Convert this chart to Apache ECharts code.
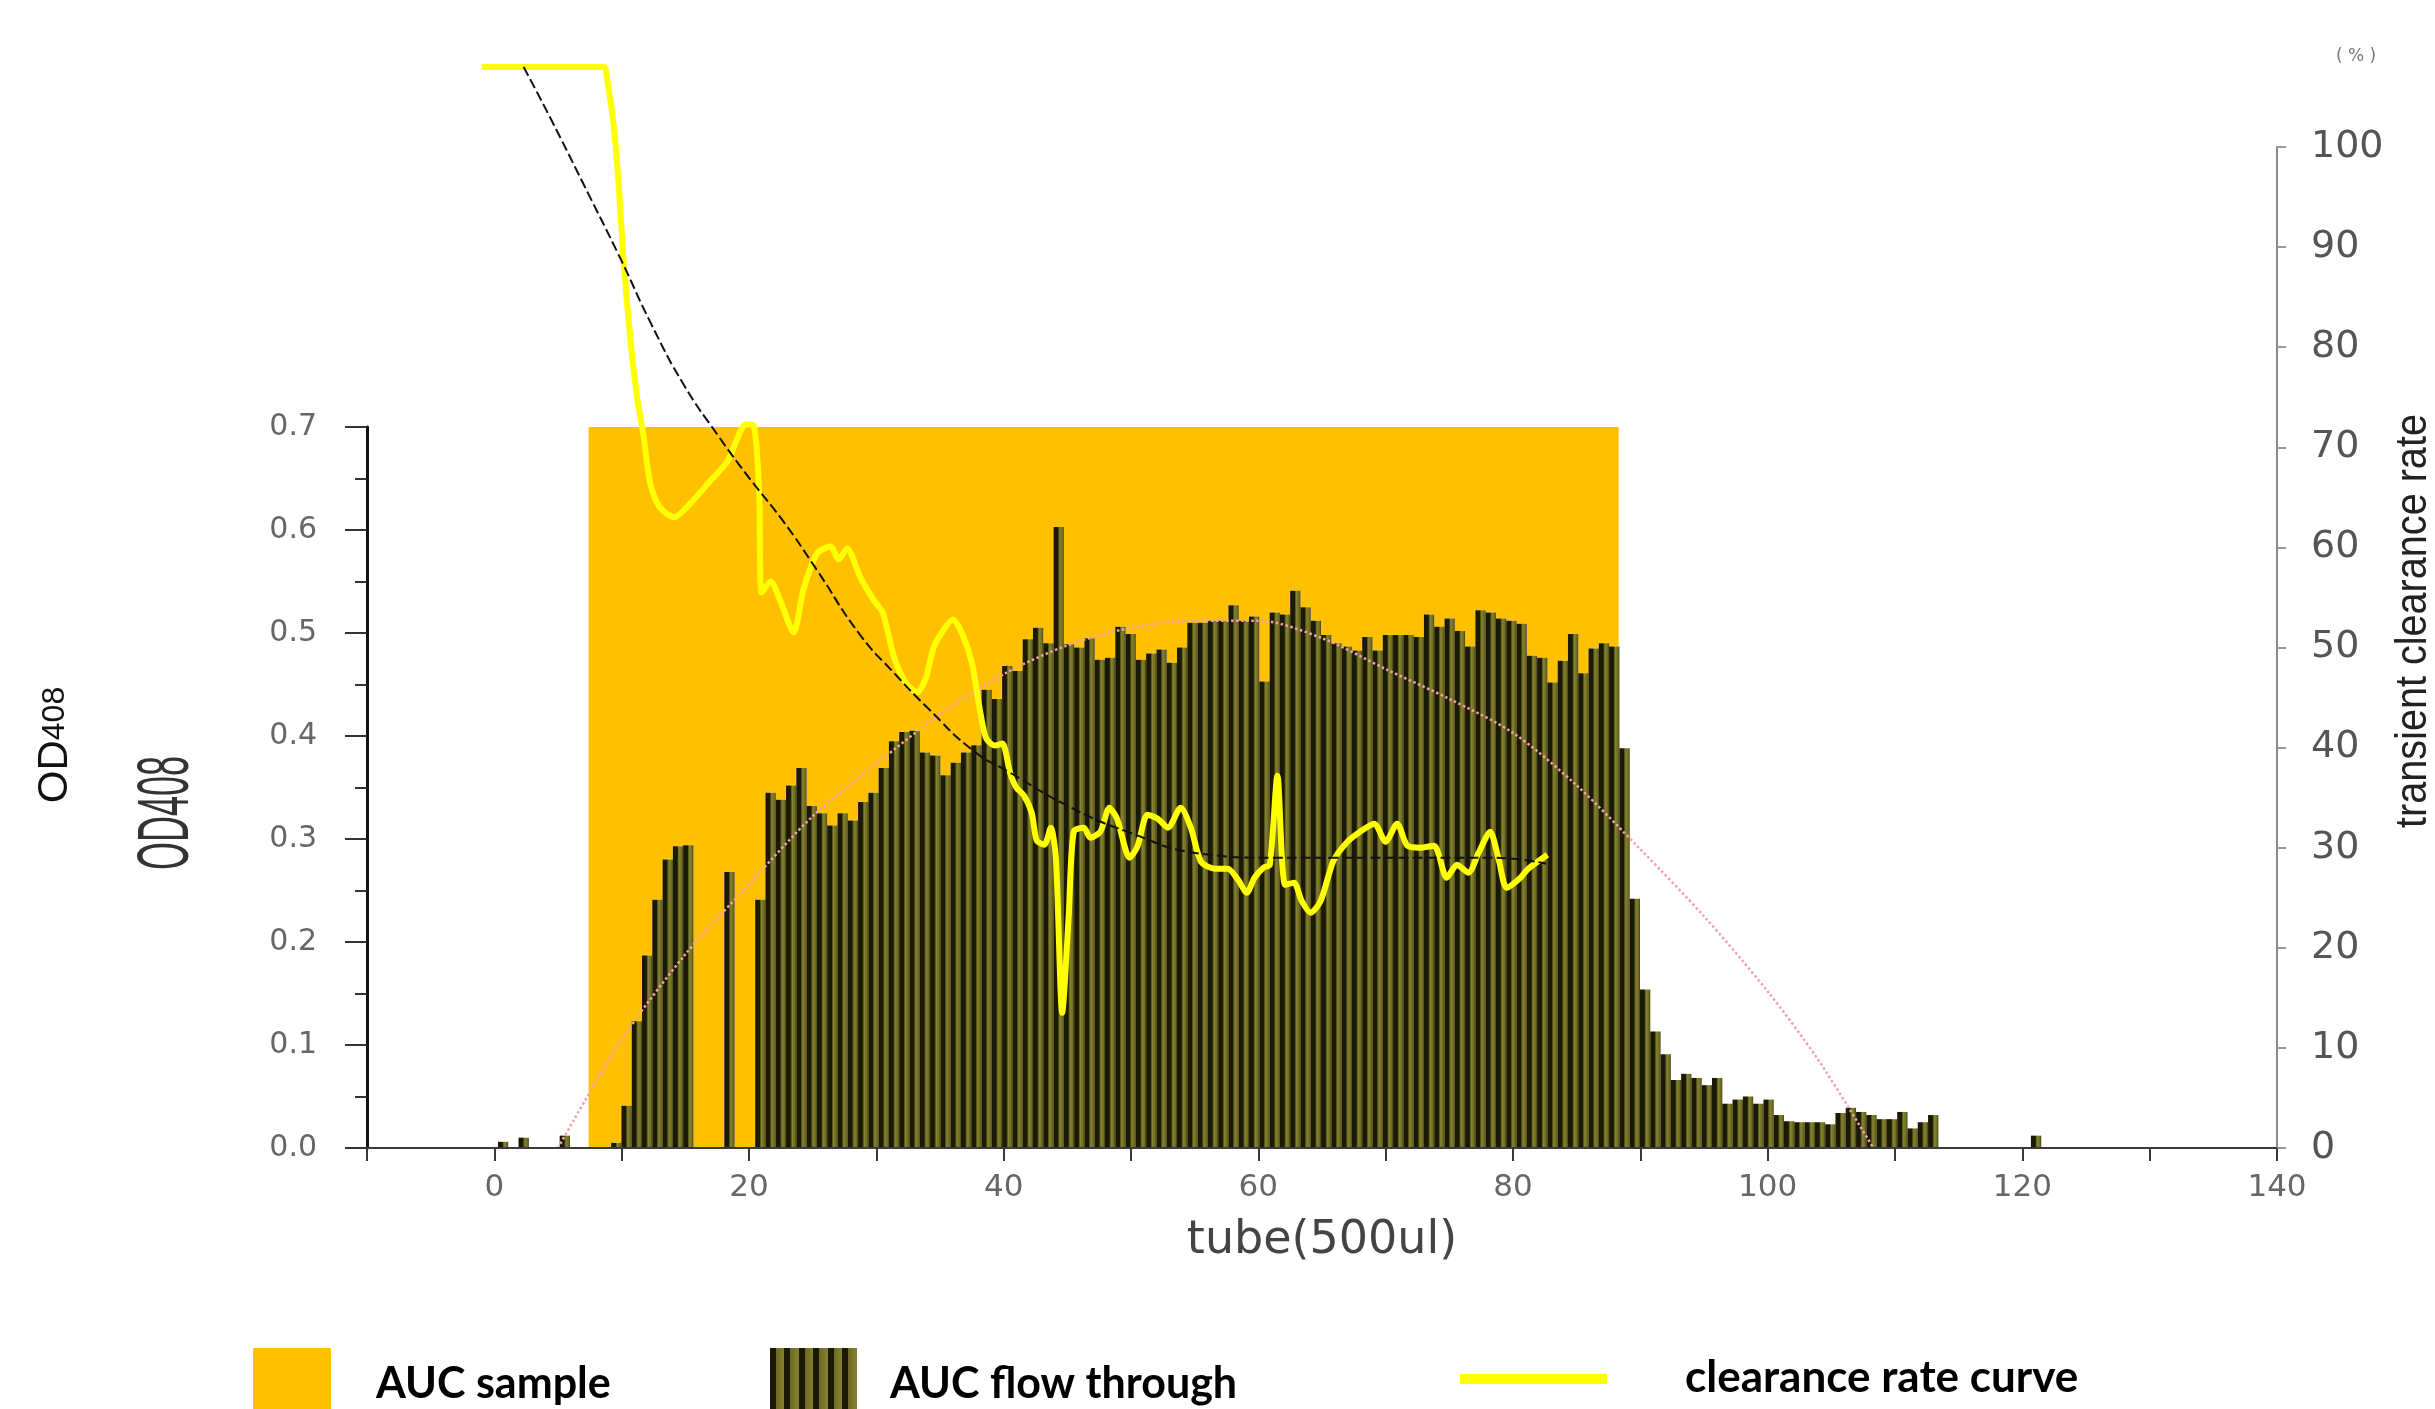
<!DOCTYPE html>
<html lang="en">
<head>
    <meta charset="UTF-8">
    <title>AUC clearance</title>
    <style>
        html, body { margin: 0; padding: 0; background: #fff; }
    </style>
</head>
<body>

<div id="main" style="width: 2435px; height: 1409px;"></div>

<script src="https://cdn.jsdelivr.net/npm/echarts@6/dist/echarts.min.js"></script>
<script>
    // ---- data ----
    // OD408 of each collected fraction, one bar per fraction
    var tubeStart = -0.12;   // tube position of the first fraction
    var tubeStep = 0.808;    // tube units between two fractions
    var flowThrough = [
        0, 0.006, 0, 0.01, 0, 0, 0, 0.012, 0, 0,
        0, 0, 0.005, 0.041, 0.123, 0.187, 0.241, 0.28, 0.293, 0.294,
        0, 0, 0, 0.268, 0, 0, 0.241, 0.345, 0.338, 0.352,
        0.369, 0.332, 0.325, 0.313, 0.325, 0.318, 0.336, 0.345, 0.369, 0.395,
        0.404, 0.405, 0.384, 0.381, 0.362, 0.374, 0.384, 0.391, 0.445, 0.436,
        0.468, 0.463, 0.494, 0.505, 0.49, 0.603, 0.489, 0.486, 0.495, 0.474,
        0.476, 0.506, 0.499, 0.474, 0.48, 0.484, 0.471, 0.486, 0.51, 0.51,
        0.512, 0.512, 0.527, 0.512, 0.516, 0.453, 0.52, 0.518, 0.541, 0.525,
        0.512, 0.498, 0.49, 0.487, 0.483, 0.496, 0.483, 0.498, 0.498, 0.498,
        0.496, 0.518, 0.506, 0.514, 0.502, 0.487, 0.522, 0.52, 0.514, 0.512,
        0.509, 0.478, 0.476, 0.452, 0.473, 0.499, 0.461, 0.485, 0.49, 0.487,
        0.388, 0.242, 0.154, 0.113, 0.091, 0.066, 0.072, 0.068, 0.061, 0.068,
        0.043, 0.047, 0.05, 0.043, 0.047, 0.032, 0.026, 0.025, 0.025, 0.025,
        0.023, 0.034, 0.039, 0.035, 0.032, 0.028, 0.028, 0.035, 0.019, 0.025,
        0.032, 0, 0, 0, 0, 0, 0, 0, 0, 0,
        0.012
    ];

    // AUC sample block (tube range, OD height)
    var sampleRange = [7.4, 88.3];
    var sampleTop = 0.7;

    // clearance rate curve (%)
    var clearanceTube = [-1, 8.6, 8.85, 9.37, 9.76, 10.15, 10.68, 11.2, 11.7, 12.25,
        13.0, 14.1, 15.4, 17.0, 18.3, 19.8, 20.4, 20.8, 21.0, 21.7,
        22.45, 23.5, 24.3, 25.35, 26.4, 27.05, 27.7, 28.75, 29.8, 30.5,
        31.4, 32.3, 33.2, 33.9, 34.5, 35.3, 36.0, 36.7, 37.5, 38.1,
        38.6, 39.3, 39.9, 40.5, 41.0, 41.6, 42.2, 42.6, 43.2, 43.7,
        44.1, 44.6, 45.1, 45.5, 46.3, 46.8, 47.6, 48.3, 48.9, 49.9,
        50.5, 51.3, 52.1, 52.9, 53.9, 54.7, 55.5, 56.6, 57.6, 58.4,
        59.1, 59.7, 60.4, 60.9, 61.5, 62.1, 62.8, 63.4, 64.1, 64.9,
        65.9, 67.0, 68.0, 69.1, 70.0, 70.9, 71.7, 72.7, 73.8, 74.8,
        75.6, 76.5, 77.3, 78.2, 78.9, 79.5, 80.5, 81.2, 82.7];
    var clearanceRate = [108, 108, 106.8, 102.2, 96.4, 88.6, 80.9, 75.1, 71.3, 66.3,
        64, 63, 64.4, 66.7, 68.6, 72.3, 72.1, 65.5, 55.5, 56.6,
        54.7, 51.5, 55.9, 59.4, 60.1, 58.8, 59.9, 57.0, 54.7, 53.5,
        49, 46.5, 45.5, 47, 50, 51.8, 52.8, 51.5, 48.5, 44,
        41, 40.2, 40.4, 37.5, 36.0, 35.2, 33.5, 30.7, 30.3, 32,
        29, 13.5, 23, 31.6, 32, 31, 31.6, 34, 32.9, 29,
        30.1, 33.3, 32.9, 32, 34, 32, 28.6, 27.9, 27.9, 26.8,
        25.5, 27, 28.0, 28.3, 37.2, 26.3, 26.5, 24.7, 23.5, 24.7,
        28.7, 30.6, 31.6, 32.4, 30.6, 32.4, 30.2, 30, 30.2, 27,
        28.3, 27.5, 29.5, 31.6, 28.7, 26, 26.9, 27.9, 29.3];

    // fitted trend of the clearance rate (%)
    var fitTube = [2.3, 4.4, 7, 10, 12.25, 14.9, 17.5, 20.1, 22.7, 25.3, 28.7, 31.5,
        34, 37.6, 40.5, 45, 49.7, 55.5, 60.8, 66, 72, 78, 80.7, 82.6];
    var fitRate = [108, 102.9, 96.3, 88.6, 82.5, 76.2, 71.3, 66.8, 62.6, 57.8, 51.3, 47.3,
        44, 39.7, 37.5, 34.2, 31.6, 29.4, 29, 29, 29, 29, 28.8, 28.4];

    // fitted peak of the flow through (OD408)
    var peakTube = [5, 10, 15, 20, 25, 30, 35, 40, 45, 50, 55, 60,
        65, 70, 75, 80, 85, 90, 95, 100, 104, 108.3];
    var peakOD = [0, 0.105, 0.188, 0.256, 0.322, 0.373, 0.421, 0.46, 0.488, 0.505, 0.512, 0.512,
        0.495, 0.465, 0.436, 0.403, 0.352, 0.29, 0.225, 0.152, 0.085, 0];

    // ---- layout ----
    var X_MIN = -10, X_MAX = 140;
    var PLOT_LEFT = 367, PLOT_RIGHT = 2277, PLOT_BOTTOM = 1148;
    var OD_TOP = 427, RATE_TOP = 147;
    var pxPerTube = (PLOT_RIGHT - PLOT_LEFT) / (X_MAX - X_MIN);
    var barGridLeft = PLOT_LEFT + (tubeStart - tubeStep / 2 - X_MIN) * pxPerTube;
    var barGridWidth = flowThrough.length * tubeStep * pxPerTube;

    function zip(xs, ys) {
        return xs.map(function (x, i) { return [x, ys[i]]; });
    }

    var fractions = flowThrough.map(function (v, i) { return String(i + 1); });

    var DARK = '#1a1904', OLIVE = '#6c6a22', OLIVE_LIGHT = '#85832f';
    var barFill = new echarts.graphic.LinearGradient(0, 0, 1, 0, [
        {offset: 0, color: DARK}, {offset: 0.42, color: DARK},
        {offset: 0.5, color: '#55531a'}, {offset: 0.62, color: OLIVE_LIGHT},
        {offset: 0.88, color: OLIVE}, {offset: 1, color: '#3e3c0f'}
    ]);

    function stripeFill(n) {
        var stops = [];
        for (var k = 0; k < n; k++) {
            var a = k / n, b = (k + 1) / n, m = a + (b - a) * 0.4;
            stops.push({offset: a, color: DARK}, {offset: m, color: DARK},
                {offset: m, color: OLIVE}, {offset: b, color: OLIVE_LIGHT});
        }
        return new echarts.graphic.LinearGradient(0, 0, 1, 0, stops);
    }

    var myChart = echarts.init(document.getElementById('main'));

    var option = {
        animation: false,
        backgroundColor: '#fff',
        grid: [
            {left: PLOT_LEFT, width: PLOT_RIGHT - PLOT_LEFT, top: OD_TOP, height: PLOT_BOTTOM - OD_TOP},
            {left: barGridLeft, width: barGridWidth, top: OD_TOP, height: PLOT_BOTTOM - OD_TOP},
            {left: PLOT_LEFT, width: PLOT_RIGHT - PLOT_LEFT, top: RATE_TOP, height: PLOT_BOTTOM - RATE_TOP}
        ],
        xAxis: [
            {
                type: 'value', gridIndex: 0, min: X_MIN, max: X_MAX, interval: 10, z: 10,
                name: 'tube(500ul)', nameLocation: 'middle', nameGap: 70,
                nameTextStyle: {fontSize: 46, color: '#444', fontFamily: 'DejaVu Sans'},
                axisLine: {onZero: false, lineStyle: {color: '#3a3a3a', width: 2}},
                axisTick: {length: 13, lineStyle: {color: '#3a3a3a', width: 2}},
                axisLabel: {
                    margin: 24, fontSize: 31, color: '#666', fontFamily: 'DejaVu Sans',
                    showMinLabel: true, showMaxLabel: true,
                    formatter: function (v) { return (v >= 0 && v % 20 === 0) ? String(v) : ''; }
                },
                splitLine: {show: false}
            },
            {type: 'category', gridIndex: 1, data: fractions, show: false},
            {type: 'value', gridIndex: 2, min: X_MIN, max: X_MAX, show: false}
        ],
        yAxis: [
            {
                type: 'value', gridIndex: 0, min: 0, max: 0.7, interval: 0.1, position: 'left', z: 10,
                axisLine: {show: true, onZero: false, lineStyle: {color: '#111', width: 3}},
                axisTick: {show: true, length: 22, lineStyle: {color: '#333', width: 2}},
                minorTick: {show: true, splitNumber: 2, length: 12, lineStyle: {color: '#333', width: 2}},
                axisLabel: {
                    margin: 50, fontSize: 30, color: '#666', fontFamily: 'DejaVu Sans',
                    formatter: function (v) { return v.toFixed(1); }
                },
                splitLine: {show: false}
            },
            {type: 'value', gridIndex: 1, min: 0, max: 0.7, show: false},
            {
                type: 'value', gridIndex: 2, min: 0, max: 100, interval: 10, position: 'right', z: 10,
                axisLine: {show: true, onZero: false, lineStyle: {color: '#8a8a8a', width: 2}},
                axisTick: {show: true, length: 9, lineStyle: {color: '#999', width: 2}},
                axisLabel: {margin: 34, fontSize: 38, color: '#555', fontFamily: 'DejaVu Sans'},
                splitLine: {show: false}
            }
        ],
        series: [
            {
                name: 'AUC sample',
                type: 'line',
                xAxisIndex: 0, yAxisIndex: 0,
                data: [[sampleRange[0], 0]],
                symbol: 'none',
                silent: true,
                markArea: {
                    silent: true,
                    itemStyle: {color: '#FFC000'},
                    data: [[{coord: [sampleRange[0], 0]}, {coord: [sampleRange[1], sampleTop]}]]
                }
            },
            {
                // pale halo round the bar outline
                type: 'bar',
                xAxisIndex: 1, yAxisIndex: 1,
                data: flowThrough.map(function (v) { return v > 0 ? v : '-'; }),
                barWidth: '100%', barGap: '-100%', barCategoryGap: '0%',
                itemStyle: {color: '#fffbe4', borderColor: '#fffbe4', borderWidth: 6},
                silent: true,
                z: 3
            },
            {
                name: 'AUC flow through',
                type: 'bar',
                xAxisIndex: 1, yAxisIndex: 1,
                data: flowThrough,
                barWidth: '100%', barGap: '-100%', barCategoryGap: '0%',
                itemStyle: {color: barFill},
                z: 4
            },
            {
                name: 'peak fit',
                type: 'line',
                xAxisIndex: 0, yAxisIndex: 0,
                data: zip(peakTube, peakOD),
                smooth: 0.3,
                symbol: 'none',
                lineStyle: {color: '#f2a2ac', width: 2.5, type: 'dotted'},
                z: 6
            },
            {
                name: 'clearance rate curve',
                type: 'line',
                xAxisIndex: 2, yAxisIndex: 2,
                data: zip(clearanceTube, clearanceRate),
                clip: false,
                smooth: 0.25,
                symbol: 'none',
                lineStyle: {color: '#ffff00', width: 6},
                z: 8
            },
            {
                name: 'rate fit',
                type: 'line',
                xAxisIndex: 2, yAxisIndex: 2,
                data: zip(fitTube, fitRate),
                clip: false,
                smooth: true,
                symbol: 'none',
                lineStyle: {color: '#111', width: 2, type: [10, 4]},
                z: 9
            }
        ],
        graphic: [
            {
                type: 'text', x: 55, y: 745, rotation: Math.PI / 2,
                style: {
                    text: '{a|OD}{b|408}', align: 'center', verticalAlign: 'middle',
                    rich: {
                        a: {fontSize: 42, fontFamily: 'Liberation Sans', fill: '#111'},
                        b: {fontSize: 32, fontFamily: 'Liberation Sans', fill: '#111'}
                    }
                }
            },
            {
                type: 'text', x: 168, y: 813, rotation: Math.PI / 2, scaleX: 0.5,
                style: {
                    text: 'OD408', align: 'center', verticalAlign: 'middle',
                    fontSize: 72, fontFamily: 'Liberation Sans', fill: '#333'
                }
            },
            {
                type: 'text', x: 2414, y: 621, rotation: Math.PI / 2, scaleX: 0.9,
                style: {
                    text: 'transient clearance rate', align: 'center', verticalAlign: 'middle',
                    fontSize: 44, fontFamily: 'Liberation Sans', fill: '#222'
                }
            },
            {
                type: 'text', x: 2356, y: 57,
                style: {
                    text: '( % )', align: 'center', verticalAlign: 'middle',
                    fontSize: 17, fontFamily: 'DejaVu Sans', fill: '#777'
                }
            },
            // legend
            {type: 'rect', shape: {x: 253, y: 1348, width: 78, height: 61}, style: {fill: '#FFC000'}},
            {
                type: 'text', x: 376, y: 1384,
                style: {text: 'AUC sample', verticalAlign: 'middle', fontSize: 43, fontWeight: 'bold', fontFamily: 'Lato', fill: '#000'}
            },
            {type: 'rect', shape: {x: 770, y: 1348, width: 87, height: 61}, style: {fill: stripeFill(6)}},
            {
                type: 'text', x: 890, y: 1384,
                style: {text: 'AUC flow through', verticalAlign: 'middle', fontSize: 43, fontWeight: 'bold', fontFamily: 'Lato', fill: '#000'}
            },
            {type: 'rect', shape: {x: 1460, y: 1374, width: 147, height: 10}, style: {fill: '#ffff00'}},
            {
                type: 'text', x: 1685, y: 1378,
                style: {text: 'clearance rate curve', verticalAlign: 'middle', fontSize: 44, fontWeight: 'bold', fontFamily: 'Lato', fill: '#000'}
            }
        ]
    };
    myChart.setOption(option);
</script>
</body>
</html>
